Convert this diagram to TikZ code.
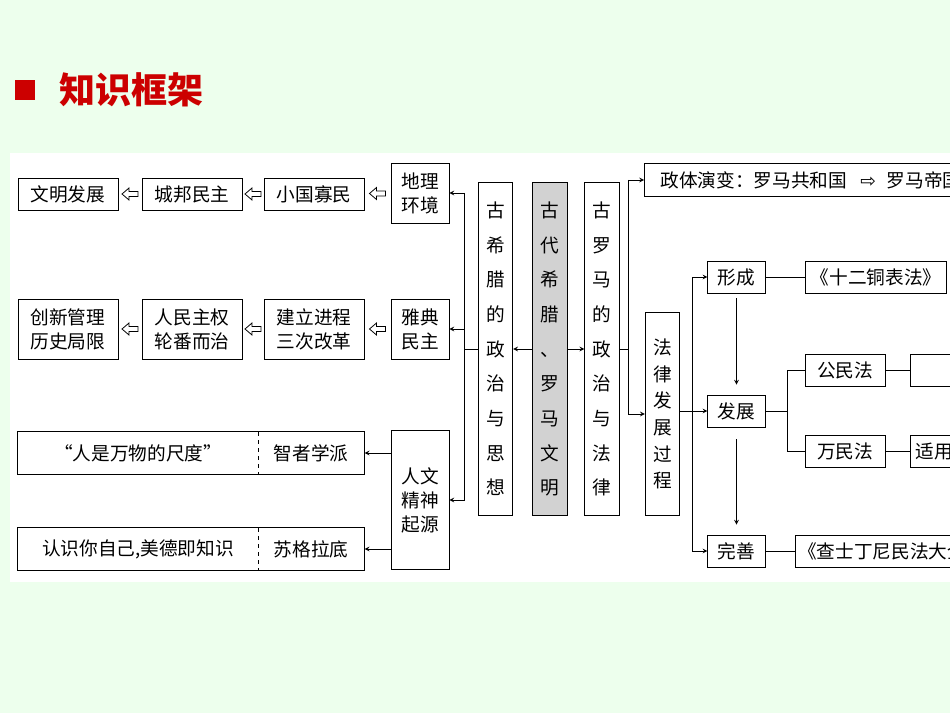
\documentclass[tikz,border=0pt]{standalone}
\usepackage{fontspec}
\setmainfont{Noto Sans CJK SC}
\newfontfamily\symfont{DejaVu Sans}
\usetikzlibrary{calc}

\tikzset{
  box/.style={draw, line width=0.6pt, fill=white, font=\fontsize{14}{18}\selectfont, inner sep=1pt, align=center},
  vbox/.style={box, minimum width=26pt, font=\fontsize{14}{26}\selectfont},
  link/.style={line width=0.6pt},
  arr/.style={link, -stealth}
}
% hollow arrow pointing left
\newcommand\hollowleft[2][]{\draw[line width=0.6pt, fill=white, shift={#2}, #1]
  (-8,0) -- (-1,-6) -- (-1,-2.5) -- (8,-2.5) -- (8,2.5) -- (-1,2.5) -- (-1,6) -- cycle;}

\begin{document}
\begin{tikzpicture}[x=0.75pt, y=-0.75pt]
\useasboundingbox (0,0) rectangle (950,713);
\fill[green!7!white] (0,0) rectangle (950,713);
\fill[white] (10,153) rectangle (950,582);

% Title
\fill[red!80!black] (15,80) rectangle (35,100);
\node[anchor=west, text=red!80!black, font=\fontsize{27}{30}\selectfont\bfseries] (title) at (55,90) {知识框架};

\begin{scope}
\clip (10,153) rectangle (950,582);

% Greece, row 1
\node[box, minimum width=75pt, minimum height=24pt] (wm) at (68,194) {文明发展};
\node[box, minimum width=75pt, minimum height=24pt] (cb) at (192,194) {城邦民主};
\node[box, minimum width=75pt, minimum height=24pt] (xg) at (314,194) {小国寡民};
\node[box, minimum width=43.5pt, minimum height=45pt] (dl) at (420,193) {地理\\环境};

% Greece, row 2
\node[box, minimum width=75pt, minimum height=45pt] (cx) at (68,329) {创新管理\\历史局限};
\node[box, minimum width=75pt, minimum height=45pt] (rm) at (192,329) {人民主权\\轮番而治};
\node[box, minimum width=75pt, minimum height=45pt] (jl) at (314,329) {建立进程\\三次改革};
\node[box, minimum width=43.5pt, minimum height=45pt] (yd) at (420,329) {雅典\\民主};

% Greece, thought
\node[box, minimum width=260pt, minimum height=32pt] (zz) at (191,453) {};
\node[box, minimum width=260pt, minimum height=32pt] (sg) at (191,549) {};
\draw[dashed, line width=0.5pt] (258,432) -- (258,475);
\draw[dashed, line width=0.5pt] (258,528) -- (258,570);
\node[font=\fontsize{14}{18}\selectfont] (zzl) at (138,453) {“人是万物的尺度”};
\node[font=\fontsize{14}{18}\selectfont] (zzr) at (311,453) {智者学派};
\node[font=\fontsize{14}{18}\selectfont] (sgl) at (138,549) {认识你自己,美德即知识};
\node[font=\fontsize{14}{18}\selectfont] (sgr) at (311,549) {苏格拉底};
\node[box, minimum width=43.5pt, minimum height=104pt] (rw) at (420,500) {人文\\精神\\起源};

% centre columns
\node[vbox, minimum height=250pt] (gx) at (495.5,349) {古\\希\\腊\\的\\政\\治\\与\\思\\想};
\node[vbox, minimum height=250pt, fill=gray!35] (gd) at (550,349) {古\\代\\希\\腊\\、\\罗\\马\\文\\明};
\node[vbox, minimum height=250pt] (gl) at (602,349) {古\\罗\\马\\的\\政\\治\\与\\法\\律};

% Rome
\node[box, anchor=west, minimum height=25pt, inner sep=6pt] (zt) at (644,180)
  {\hspace{6pt}政体演变：罗马共和国\hspace{10pt}{\symfont ⇨}\hspace{8pt}罗马帝国};
\node[vbox, minimum height=152pt, font=\fontsize{14}{20}\selectfont] (fl) at (662.5,414) {法\\律\\发\\展\\过\\程};
\node[box, minimum width=43pt, minimum height=24pt] (xc) at (736.5,277) {形成};
\node[box, minimum width=43pt, minimum height=24pt] (fz) at (736.5,411) {发展};
\node[box, minimum width=43pt, minimum height=24pt] (ws) at (736.5,551) {完善};
\node[box, anchor=west, minimum height=24pt, inner sep=4pt] (sr) at (805,277) {《十二铜表法》};
\node[box, minimum width=60pt, minimum height=24pt] (gm) at (845,370) {公民法};
\node[box, minimum width=60pt, minimum height=24pt] (wmf) at (845,451) {万民法};
\node[box, anchor=west, minimum width=80pt, minimum height=24pt] (gmx) at (910,370) {};
\node[box, anchor=west, minimum height=24pt, inner sep=4pt] (wmx) at (910,451) {适用于罗马公民与外邦人};
\node[box, anchor=west, minimum height=24pt, inner sep=2pt] (cs) at (795,551) {《查士丁尼民法大全》};
\end{scope}

% hollow arrows
\hollowleft{($(wm.east)!0.5!(cb.west)$)}
\hollowleft{($(cb.east)!0.5!(xg.west)$)}
\hollowleft{($(xg.east)!0.5!(dl.west)$)}
\hollowleft{($(cx.east)!0.5!(rm.west)$)}
\hollowleft{($(rm.east)!0.5!(jl.west)$)}
\hollowleft{($(jl.east)!0.5!(yd.west)$)}

% connectors, Greece
\draw[arr] (gd.west) -- (gx.east);
\draw[arr] (gd.east) -- (gl.west);
\coordinate (gj) at ($(gx.west)+(-13,0)$);
\draw[link] (gx.west) -- (gj);
\draw[arr] (gj |- dl.east) -- (dl.east);
\draw[arr] (gj |- yd.east) -- (yd.east);
\draw[arr] (gj |- dl.east) -- (gj |- rw.east) -- (rw.east);
\draw[arr] (rw.west |- zz.east) -- (zz.east);
\draw[arr] (rw.west |- sg.east) -- (sg.east);

% connectors, Rome
\coordinate (rj) at ($(gl.east)+(9,0)$);
\draw[link] (gl.east) -- (rj);
\draw[arr] (rj |- zt.west) -- (zt.west);
\draw[arr] (rj |- zt.west) -- (rj |- fl.west) -- (fl.west);
\coordinate (fj) at ($(fl.east)+(12,0)$);
\draw[arr] (fl.east |- fz.west) -- (fz.west);
\draw[arr] (fj |- xc.west) -- (xc.west);
\draw[arr] (fj |- xc.west) -- (fj |- ws.west) -- (ws.west);
\draw[arr] ($(xc.south)+(0,5)$) -- ($(fz.north)+(0,-10)$);
\draw[arr] ($(fz.south)+(0,12)$) -- ($(ws.north)+(0,-10)$);
\draw[link] (xc.east) -- (sr.west);
\draw[link] (ws.east) -- (cs.west);
\coordinate (fzj) at ($(fz.east)+(22,0)$);
\draw[link] (fz.east) -- (fzj);
\draw[link] (fzj |- gm.west) -- (gm.west);
\draw[link] (fzj |- gm.west) -- (fzj |- wmf.west) -- (wmf.west);
\draw[link] (gm.east) -- (gmx.west);
\draw[link] (wmf.east) -- (wmx.west);
\end{tikzpicture}
\end{document}
